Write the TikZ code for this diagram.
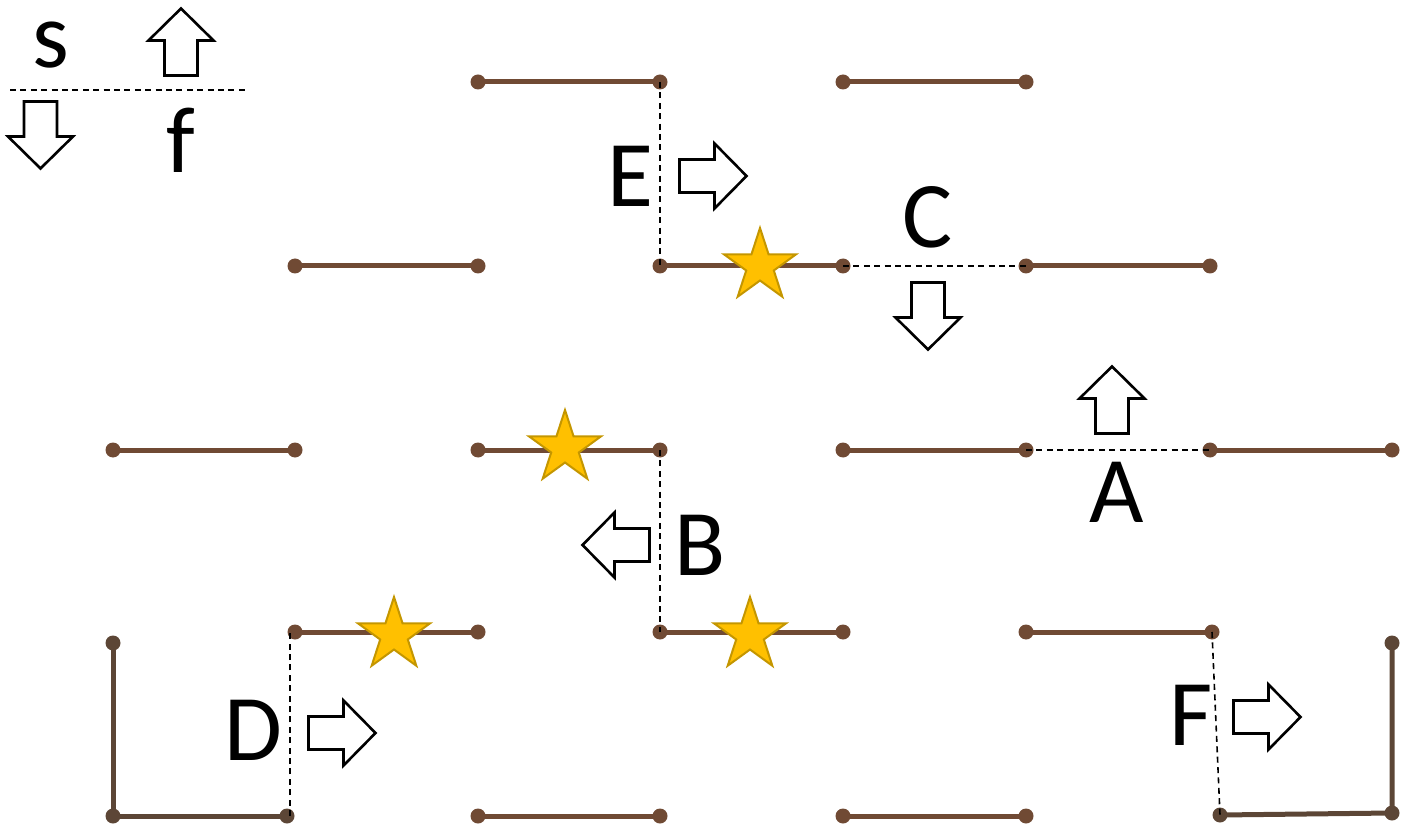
\documentclass[tikz,border=0pt]{standalone}
\usepackage{fontspec}
\setmainfont{Carlito}
\usetikzlibrary{shapes.geometric}
\definecolor{seg}{RGB}{112,74,52}
\definecolor{segdark}{RGB}{92,70,54}
\definecolor{starfill}{RGB}{255,192,0}
\definecolor{starline}{RGB}{196,150,0}
\begin{document}
\begin{tikzpicture}[x=0.5pt,y=-0.5pt,
  dot/.style={circle,fill=seg,inner sep=0pt,minimum size=7.5pt},
  dotdark/.style={circle,fill=segdark,inner sep=0pt,minimum size=7.5pt},
  segline/.style={draw=seg,line width=2.5pt},
  segdarkline/.style={draw=segdark,line width=2.5pt},
  dashline/.style={draw=black,line width=0.8pt,dash pattern=on 3pt off 2.2pt},
  lbl/.style={anchor=base,font=\fontsize{47}{50}\selectfont,inner sep=0pt},
  starnode/.style={star,star points=5,star point ratio=2.618,fill=starfill,draw=starline,line width=1pt,inner sep=0pt,minimum size=38pt},
  barrow/.pic={\draw[black,line width=1.3pt,fill=white,line join=miter]
     (-33.5,-16.5) -- (1.5,-16.5) -- (1.5,-32.5) -- (33.5,0) -- (1.5,32.5) -- (1.5,16.5) -- (-33.5,16.5) -- cycle;}
]
\useasboundingbox (0,0) rectangle (1412,828);
% dots
\node[dot] (d13) at (478,82) {};
\node[dot] (d14) at (660,82) {};
\node[dot] (d15) at (843,82) {};
\node[dot] (d16) at (1026,82) {};
\node[dot] (d22) at (295,266) {};
\node[dot] (d23) at (478,266) {};
\node[dot] (d24) at (660,266) {};
\node[dot] (d25) at (843,266) {};
\node[dot] (d26) at (1026,266) {};
\node[dot] (d27) at (1210,266) {};
\node[dot] (d31) at (113,450) {};
\node[dot] (d32) at (295,450) {};
\node[dot] (d33) at (478,450) {};
\node[dot] (d34) at (660,450) {};
\node[dot] (d35) at (843,450) {};
\node[dot] (d36) at (1026,450) {};
\node[dot] (d37) at (1210,450) {};
\node[dot] (d38) at (1392,450) {};
\node[dot] (d42) at (295,632) {};
\node[dot] (d43) at (478,632) {};
\node[dot] (d44) at (660,632) {};
\node[dot] (d45) at (843,632) {};
\node[dot] (d46) at (1026,632) {};
\node[dot] (d47) at (1212,632) {};
\node[dot] (d53) at (478,816) {};
\node[dot] (d54) at (660,816) {};
\node[dot] (d55) at (843,816) {};
\node[dot] (d56) at (1026,816) {};
\node[dotdark] (la) at (113,643) {};
\node[dotdark] (lb) at (113,816) {};
\node[dotdark] (lc) at (287,816) {};
\node[dotdark] (ra) at (1392,643) {};
\node[dotdark] (rb) at (1392,813) {};
\node[dotdark] (rc) at (1220,815) {};
% segments
\draw[segline] (d13.center) -- (d14.center);
\draw[segline] (d15.center) -- (d16.center);
\draw[segline] (d22.center) -- (d23.center);
\draw[segline] (d24.center) -- (d25.center);
\draw[segline] (d26.center) -- (d27.center);
\draw[segline] (d31.center) -- (d32.center);
\draw[segline] (d33.center) -- (d34.center);
\draw[segline] (d35.center) -- (d36.center);
\draw[segline] (d37.center) -- (d38.center);
\draw[segline] (d42.center) -- (d43.center);
\draw[segline] (d44.center) -- (d45.center);
\draw[segline] (d46.center) -- (d47.center);
\draw[segline] (d53.center) -- (d54.center);
\draw[segline] (d55.center) -- (d56.center);
\draw[segdarkline] (la.center) -- (lb.center) -- (lc.center);
\draw[segdarkline] (ra.center) -- (rb.center) -- (rc.center);
% dashed connectors
\draw[dashline] (d14.center) -- (d24.center);
\draw[dashline] (d25.center) -- (d26.center);
\draw[dashline] (d36.center) -- (d37.center);
\draw[dashline] (d34.center) -- (d44.center);
\draw[dashline] ([xshift=1.5pt]lc.center) -- ([xshift=1.5pt]lc.center |- d42.center);
\draw[dashline] (d47.center) -- (rc.center);
% legend
\coordinate (lg1) at (10,90);
\coordinate (lg2) at (249,90);
\draw[dashline] (lg1) -- (lg2);
\node[lbl] (ls) at (51,68) {s};
\node[lbl] (lf) at (181,173) {f};
\pic[rotate=90] at (181,42) {barrow};
\pic[rotate=-90] at (40.5,135) {barrow};
% stars
\node[starnode] (s1) at (760,266) {};
\node[starnode] (s2) at (565,448) {};
\node[starnode] (s3) at (394,635) {};
\node[starnode] (s4) at (750,635) {};
% block arrows
\pic at (713,176) {barrow};
\pic[rotate=-90] at (928,316) {barrow};
\pic[rotate=90] at (1112,400) {barrow};
\pic[rotate=180] at (616,545) {barrow};
\pic at (342,733) {barrow};
\pic at (1267,717) {barrow};
% labels
\node[lbl] (lE) at (630,207) {E};
\node[lbl] (lC) at (928,248) {C};
\node[lbl] (lA) at (1117,522) {A};
\node[lbl] (lB) at (700,575) {B};
\node[lbl] (lD) at (253,760) {D};
\node[lbl] (lF) at (1191,745) {F};
\end{tikzpicture}
\end{document}
